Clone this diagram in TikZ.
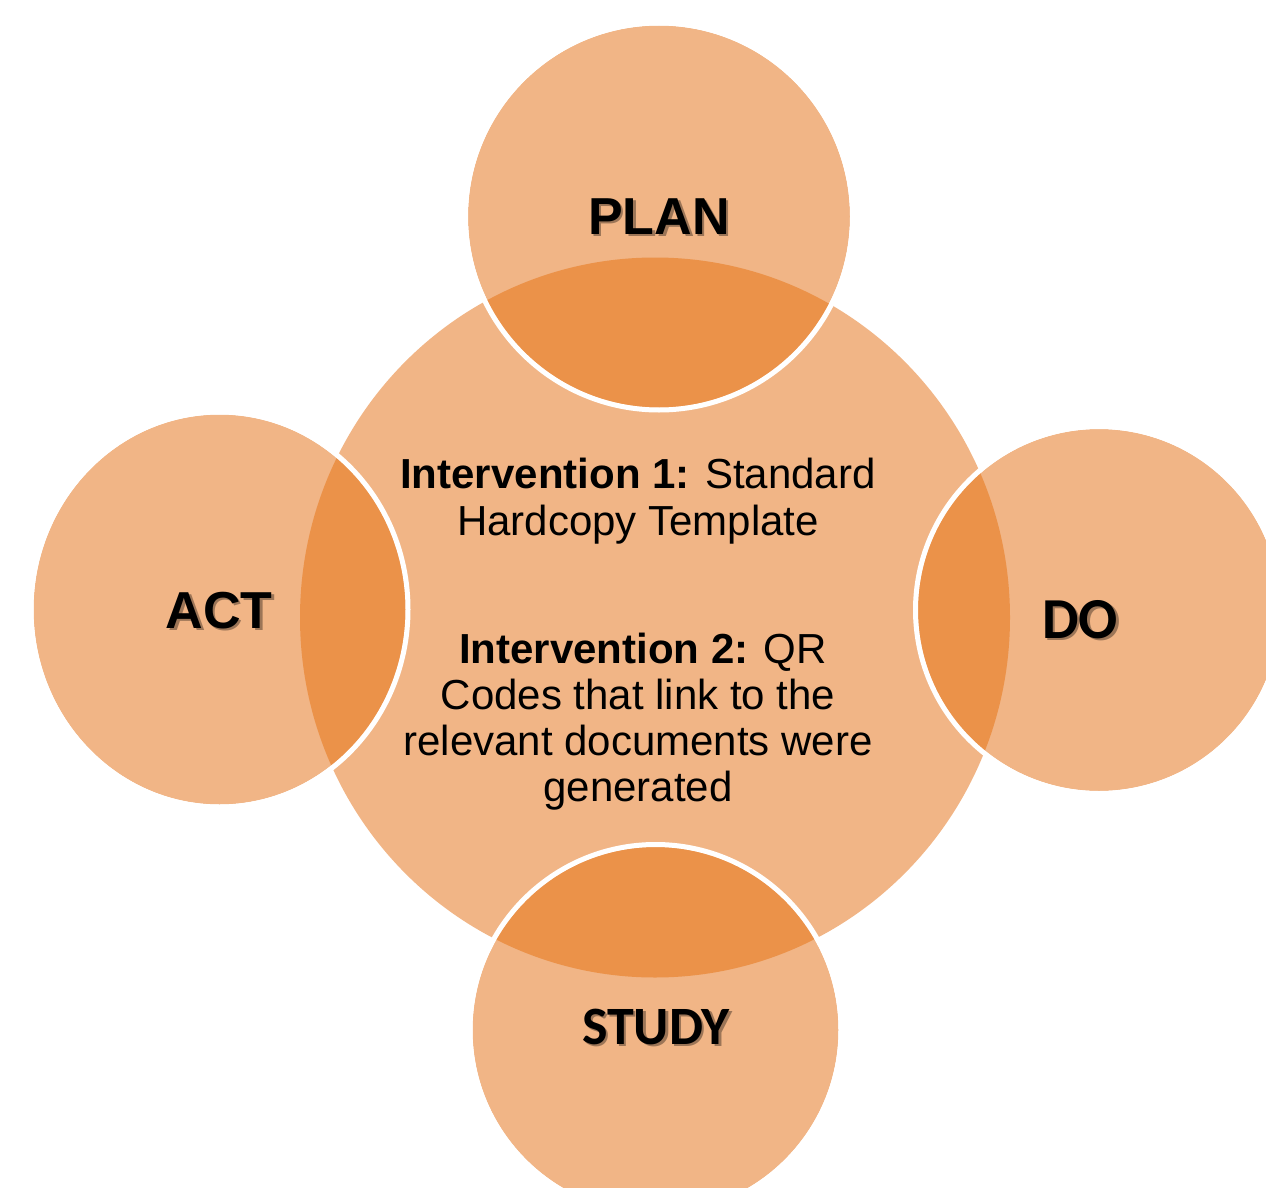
\documentclass[tikz,border=0pt]{standalone}
\usepackage{fontspec}
\setmainfont{Liberation Sans}
\newfontfamily\calfont{Carlito}
\definecolor{lightor}{HTML}{F1B586}
\definecolor{darkor}{HTML}{EB9249}
\begin{document}
\begin{tikzpicture}[x=1pt,y=-1pt,
  ringline/.style={draw=white,line width=5pt},
  phase/.style={anchor=base,inner sep=0pt,font=\fontsize{52}{60}\selectfont\bfseries},
  phasecal/.style={anchor=base,inner sep=0pt,font=\fontsize{58}{66}\selectfont\calfont\bfseries},
  shade/.style={text=black,opacity=0.35},
  body/.style={anchor=base,inner sep=0pt,font=\fontsize{42}{47}\selectfont}]
\useasboundingbox (0,0) rectangle (1266,1188);
\clip (0,0) rectangle (1266,1188);
% centres
\coordinate (cen) at (655,617.5);
\coordinate (plan) at (659,216.5);
\coordinate (act) at (219.5,609.5);
\coordinate (do) at (1099,610);
\coordinate (study) at (655.5,1030);
% light fills
\fill[lightor] (cen) ellipse [x radius=355,y radius=360];
\fill[lightor] (plan) circle [radius=191];
\fill[lightor] (act) ellipse [x radius=186,y radius=195];
\fill[lightor] (do) circle [radius=181];
\fill[lightor] (study) circle [radius=183];
% dark overlaps
\begin{scope}
  \clip (cen) ellipse [x radius=355,y radius=360];
  \fill[darkor] (plan) circle [radius=191];
  \fill[darkor] (act) ellipse [x radius=186,y radius=195];
  \fill[darkor] (do) circle [radius=181];
  \fill[darkor] (study) circle [radius=183];
\end{scope}
% white rims
\draw[ringline] (plan) circle [radius=193.5];
\draw[ringline] (act) ellipse [x radius=188.5,y radius=197.5];
\draw[ringline] (do) circle [radius=183.5];
\draw[ringline] (study) circle [radius=185.5];
% phase labels
\node[phase,shade] (planS) at (661.5,236.5) {PLAN};
\node[phase] (planT) at (659,234) {PLAN};
\node[phase,shade] (actS) at (221.5,630.5) {ACT};
\node[phase] (actT) at (219,628) {ACT};
\node[phasecal,shade] (doS) at (1082.5,640.5) {DO};
\node[phasecal] (doT) at (1080,638) {DO};
\node[phasecal,shade,font=\fontsize{54}{62}\selectfont\calfont\bfseries] (studyS) at (658.5,1046.5) {STUDY};
\node[phasecal,font=\fontsize{54}{62}\selectfont\calfont\bfseries] (studyT) at (656,1044) {STUDY};
% intervention text
\node[body] (i1a) at (638,488) {\textbf{Intervention 1:} Standard};
\node[body] (i1b) at (638,535) {Hardcopy Template};
\node[body] (i2a) at (643,663) {\textbf{Intervention 2:} QR};
\node[body] (i2b) at (638,709) {Codes that link to the};
\node[body] (i2c) at (638,755) {relevant documents were};
\node[body] (i2d) at (638,801) {generated};
\end{tikzpicture}
\end{document}
